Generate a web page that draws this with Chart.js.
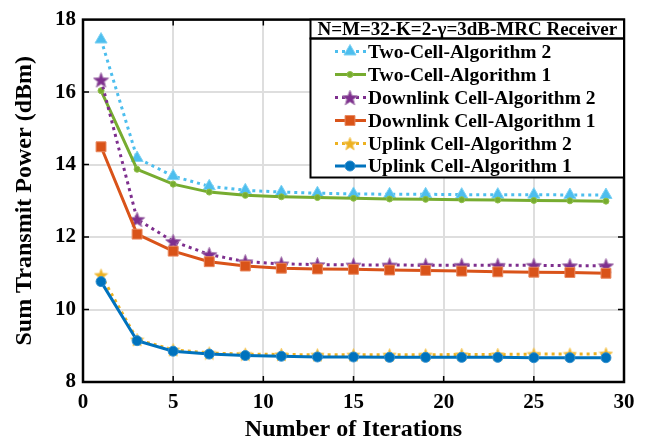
<!DOCTYPE html>
<html>
<head>
<meta charset="utf-8">
<script src="https://cdn.jsdelivr.net/npm/chart.js@4/dist/chart.umd.min.js"></script>
<style>
html,body{margin:0;padding:0;background:#fff;}
#wrap{width:646px;height:444px;position:relative;}
</style>
</head>
<body>
<div id="wrap"><canvas id="c" width="646" height="444"></canvas></div>
<script>
const iterations = [1,3,5,7,9,11,13,15,17,19,21,23,25,27,29];
const twoCellAlg2 = [17.45,14.18,13.68,13.40,13.29,13.24,13.21,13.19,13.18,13.18,13.17,13.17,13.17,13.16,13.16];
const twoCellAlg1 = [16.04,13.87,13.46,13.24,13.15,13.11,13.09,13.07,13.05,13.04,13.03,13.02,13.01,13.00,12.99];
const downAlg2 = [16.34,12.49,11.88,11.52,11.32,11.26,11.24,11.23,11.23,11.22,11.22,11.22,11.22,11.21,11.21];
const downAlg1 = [14.49,12.08,11.61,11.32,11.20,11.14,11.12,11.11,11.09,11.08,11.06,11.04,11.03,11.02,11.00];
const upAlg2 = [10.95,9.17,8.89,8.80,8.77,8.76,8.75,8.75,8.75,8.75,8.76,8.76,8.77,8.77,8.78];
const upAlg1 = [10.77,9.14,8.85,8.77,8.73,8.71,8.69,8.69,8.68,8.68,8.68,8.68,8.67,8.67,8.67];
const seriesNames = ['Two-Cell-Algorithm 2','Two-Cell-Algorithm 1','Downlink Cell-Algorithm 2','Downlink Cell-Algorithm 1','Uplink Cell-Algorithm 2','Uplink Cell-Algorithm 1'];
const legendTitle = 'N=M=32-K=2-\u03B3=3dB-MRC Receiver';
const xTitle = 'Number of Iterations';
const yTitle = 'Sum Transmit Power (dBm)';

const FONT = '"Liberation Serif","Times New Roman",serif';

function starCanvas(fill, edge, size){
  const c = document.createElement('canvas');
  c.width = size; c.height = size;
  const g = c.getContext('2d');
  const cx = size/2, cy = size/2 + size*0.05, R = size/2 - 0.5, r = R*0.42;
  g.beginPath();
  for(let i=0;i<10;i++){
    const a = -Math.PI/2 + i*Math.PI/5;
    const rr = i%2===0 ? R : r;
    const px = cx + rr*Math.cos(a), py = cy + rr*Math.sin(a);
    if(i===0) g.moveTo(px,py); else g.lineTo(px,py);
  }
  g.closePath();
  g.fillStyle = fill; g.fill();
  g.lineWidth = 1; g.strokeStyle = edge; g.stroke();
  return c;
}
const purpleStar = starCanvas('#7E2F8E','#a070aa',17);
const yellowStar = starCanvas('#EDB120','#f3c860',15);

function pts(arr){ return iterations.map((x,i)=>({x:x,y:arr[i]})); }

const datasets = [
  {label:seriesNames[0], data:pts(twoCellAlg2), borderColor:'#4DBEEE', backgroundColor:'#4DBEEE', borderWidth:3, borderDash:[3,4],
   pointStyle:'triangle', pointRadius:7, pointBorderColor:'#7fd2f3', pointBackgroundColor:'#4DBEEE', pointBorderWidth:1, order:5},
  {label:seriesNames[1], data:pts(twoCellAlg1), borderColor:'#77AC30', backgroundColor:'#77AC30', borderWidth:3,
   pointStyle:'circle', pointRadius:3, pointBorderColor:'#8fc048', pointBackgroundColor:'#77AC30', pointBorderWidth:1, order:4},
  {label:seriesNames[2], data:pts(downAlg2), borderColor:'#7E2F8E', backgroundColor:'#7E2F8E', borderWidth:3, borderDash:[3,4],
   pointStyle:purpleStar, pointRadius:9, order:3},
  {label:seriesNames[3], data:pts(downAlg1), borderColor:'#D95319', backgroundColor:'#D95319', borderWidth:3,
   pointStyle:'rect', pointRadius:7, pointBorderColor:'#e8875e', pointBackgroundColor:'#D95319', pointBorderWidth:1, order:2},
  {label:seriesNames[4], data:pts(upAlg2), borderColor:'#EDB120', backgroundColor:'#EDB120', borderWidth:3, borderDash:[3,4],
   pointStyle:yellowStar, pointRadius:8, order:1},
  {label:seriesNames[5], data:pts(upAlg1), borderColor:'#0072BD', backgroundColor:'#0072BD', borderWidth:3,
   pointStyle:'circle', pointRadius:5, pointBorderColor:'#2f8fcf', pointBackgroundColor:'#0072BD', pointBorderWidth:1, order:0}
];

const framePlugin = {
  id:'frame',
  afterDatasetsDraw(chart){
    const {ctx, chartArea:a, scales:{x,y}} = chart;
    ctx.save();
    ctx.strokeStyle = '#000'; ctx.lineWidth = 1.5;
    const tl = 6;
    ctx.beginPath();
    [5,10,15,20,25].forEach(v=>{
      const px = x.getPixelForValue(v);
      ctx.moveTo(px,a.bottom); ctx.lineTo(px,a.bottom-tl);
      ctx.moveTo(px,a.top); ctx.lineTo(px,a.top+tl);
    });
    [10,12,14,16].forEach(v=>{
      const py = y.getPixelForValue(v);
      ctx.moveTo(a.left,py); ctx.lineTo(a.left+tl,py);
      ctx.moveTo(a.right,py); ctx.lineTo(a.right-tl,py);
    });
    ctx.stroke();
    ctx.lineWidth = 2.5;
    ctx.strokeRect(a.left, a.top, a.right-a.left, a.bottom-a.top);
    ctx.restore();
  },
  afterDraw(chart){
    const {ctx, chartArea:a} = chart;
    ctx.save();
    const L = 310.5, R = a.right, T = a.top, titleB = 38.5, B = 177.5;
    ctx.fillStyle = '#fff';
    ctx.fillRect(L, T, R-L, B-T);
    ctx.strokeStyle = '#000'; ctx.lineWidth = 2;
    ctx.strokeRect(L, T, R-L, titleB-T);
    ctx.strokeRect(L, titleB, R-L, B-titleB);
    ctx.fillStyle = '#000';
    ctx.font = 'bold 19px ' + FONT;
    ctx.textAlign = 'center'; ctx.textBaseline = 'middle';
    ctx.fillText(legendTitle, (L+R)/2, (T+titleB)/2+1);
    ctx.font = 'bold 19.5px ' + FONT;
    ctx.textAlign = 'left';
    const rowY = [51.5,74.5,97.5,120.5,143.5,166];
    chart.data.datasets.forEach((ds,i)=>{
      const yy = rowY[i];
      ctx.save();
      ctx.strokeStyle = ds.borderColor; ctx.lineWidth = ds.borderWidth;
      ctx.setLineDash(ds.borderDash || []);
      ctx.beginPath(); ctx.moveTo(335,yy); ctx.lineTo(366,yy); ctx.stroke();
      ctx.setLineDash([]);
      ctx.fillStyle = ds.pointBackgroundColor || ds.backgroundColor;
      ctx.strokeStyle = ds.pointBorderColor || ds.borderColor;
      ctx.lineWidth = ds.pointBorderWidth || 1;
      Chart.helpers.drawPoint(ctx, {pointStyle:ds.pointStyle, radius:ds.pointRadius, rotation:0, borderWidth:ds.pointBorderWidth||1}, 350, yy);
      ctx.restore();
      ctx.fillStyle = '#000';
      ctx.fillText(ds.label, 368, yy+1);
    });
    ctx.restore();
  }
};

new Chart(document.getElementById('c'), {
  type:'line',
  data:{datasets:datasets},
  options:{
    responsive:false,
    animation:false,
    events:[],
    layout:{padding:{left:0,right:22,top:13,bottom:0}},
    elements:{line:{tension:0, borderCapStyle:'butt'}},
    plugins:{legend:{display:false}, tooltip:{enabled:false}},
    scales:{
      x:{type:'linear', min:0, max:30,
        ticks:{stepSize:5, color:'#000', font:{family:FONT, size:21, weight:'bold'}, padding:8, maxRotation:0},
        grid:{color:'#dedede', lineWidth:2, drawTicks:false},
        border:{display:false},
        title:{display:true, text:xTitle, color:'#000', font:{family:FONT, size:24, weight:'bold'}, padding:{top:0,bottom:0}},
        afterFit(s){ s.height = 62; }
      },
      y:{type:'linear', min:8, max:18,
        ticks:{stepSize:2, color:'#000', font:{family:FONT, size:21, weight:'bold'}, padding:7},
        grid:{color:'#dedede', lineWidth:2, drawTicks:false},
        border:{display:false},
        title:{display:true, text:yTitle, color:'#000', font:{family:FONT, size:24, weight:'bold'}, padding:{top:10,bottom:0}},
        afterFit(s){ s.width = 83; }
      }
    }
  },
  plugins:[framePlugin]
});
</script>
</body>
</html>
